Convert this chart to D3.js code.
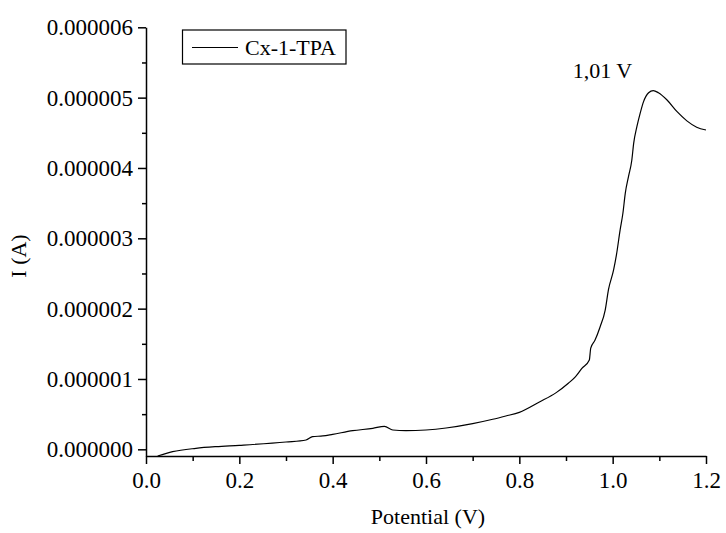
<!DOCTYPE html>
<html>
<head>
<meta charset="utf-8">
<script src="https://cdn.jsdelivr.net/npm/d3@7"></script>
<style>
  html, body { margin: 0; padding: 0; background: #fff; }
  svg { display: block; }
  text { font-family: "Liberation Serif", "Times New Roman", serif; fill: #000; }
</style>
</head>
<body>
<svg id="chart" width="726" height="533"></svg>
<script>
// Linear sweep voltammogram of Cx-1-TPA
const potential = [
  0.025, 0.057, 0.107, 0.150, 0.200, 0.300, 0.343, 0.357, 0.379, 0.400,
  0.443, 0.486, 0.511, 0.529, 0.557, 0.600, 0.643, 0.700, 0.743, 0.771,
  0.800, 0.843, 0.879, 0.905, 0.920, 0.934, 0.950, 0.953, 0.962, 0.973,
  0.984, 0.991, 1.002, 1.008, 1.016, 1.022, 1.027, 1.034, 1.041, 1.045,
  1.052, 1.059, 1.066, 1.077, 1.087, 1.098, 1.116, 1.138, 1.159, 1.180,
  1.200
];
// current in microamperes
const currentMicroA = [
  -0.095, -0.033, 0.014, 0.038, 0.057, 0.104, 0.133, 0.180, 0.190, 0.213,
  0.265, 0.299, 0.327, 0.275, 0.265, 0.275, 0.303, 0.365, 0.427, 0.474,
  0.526, 0.673, 0.806, 0.940, 1.030, 1.150, 1.270, 1.440, 1.550, 1.740,
  1.980, 2.270, 2.550, 2.760, 3.120, 3.360, 3.640, 3.880, 4.110, 4.350,
  4.590, 4.780, 4.940, 5.070, 5.100, 5.070, 4.970, 4.800, 4.670, 4.580,
  4.540
];
const xMajorTicks = [0.0, 0.2, 0.4, 0.6, 0.8, 1.0, 1.2];
const xMinorTicks = [0.1, 0.3, 0.5, 0.7, 0.9, 1.1];
const yMajorTicks = [0, 1e-6, 2e-6, 3e-6, 4e-6, 5e-6, 6e-6];
const yMinorTicks = [0.5e-6, 1.5e-6, 2.5e-6, 3.5e-6, 4.5e-6, 5.5e-6];
const seriesName = "Cx-1-TPA";
const peakLabel = "1,01 V";
const peakIndex = 44;

const data = potential.map((v, i) => ({ v, i: currentMicroA[i] * 1e-6 }));

const svg = d3.select("#chart");
const plot = { left: 146, right: 706, top: 27.3, bottom: 456 };

const x = d3.scaleLinear().domain([0, 1.2]).range([plot.left, plot.right]);
const y = d3.scaleLinear().domain([-0.095e-6, 6e-6]).range([plot.bottom, plot.top]);

// minor ticks
svg.append("g")
  .attr("transform", `translate(0,${plot.bottom})`)
  .call(d3.axisBottom(x).tickValues(xMinorTicks).tickSize(5).tickFormat(""))
  .call(g => g.select(".domain").remove());
svg.append("g")
  .attr("transform", `translate(${plot.left},0)`)
  .call(d3.axisLeft(y).tickValues(yMinorTicks).tickSize(4).tickFormat(""))
  .call(g => g.select(".domain").remove());

// major axes
const xAxis = svg.append("g")
  .attr("transform", `translate(0,${plot.bottom})`)
  .call(d3.axisBottom(x).tickValues(xMajorTicks).tickSize(8).tickSizeOuter(0)
    .tickPadding(8).tickFormat(d3.format(".1f")));
const yAxis = svg.append("g")
  .attr("transform", `translate(${plot.left},0)`)
  .call(d3.axisLeft(y).tickValues(yMajorTicks).tickSize(8).tickSizeOuter(0)
    .tickPadding(5).tickFormat(d3.format(".6f")));

[xAxis, yAxis].forEach(g => {
  g.selectAll("text").attr("font-size", 23).style("font-family", "'Liberation Serif', serif");
});
svg.selectAll(".domain, .tick line").attr("stroke", "#000").attr("stroke-width", 1.5);

// curve
svg.append("path")
  .datum(data)
  .attr("fill", "none")
  .attr("stroke", "#000")
  .attr("stroke-width", 1.2)
  .attr("stroke-linejoin", "round")
  .attr("d", d3.line().x(d => x(d.v)).y(d => y(d.i)).curve(d3.curveMonotoneX));

// axis titles
svg.append("text")
  .attr("x", (plot.left + plot.right) / 2 + 2)
  .attr("y", 524)
  .attr("text-anchor", "middle")
  .attr("font-size", 22)
  .text("Potential (V)");
svg.append("text")
  .attr("transform", "translate(26,256) rotate(-90)")
  .attr("text-anchor", "middle")
  .attr("font-size", 22)
  .text("I (A)");

// peak annotation
svg.append("text")
  .attr("x", x(data[peakIndex].v) - 21)
  .attr("y", 78)
  .attr("text-anchor", "end")
  .attr("font-size", 22)
  .text(peakLabel);

// legend
const legend = svg.append("g");
legend.append("rect")
  .attr("x", 182.5).attr("y", 30).attr("width", 163.5).attr("height", 34)
  .attr("fill", "#fff").attr("stroke", "#000").attr("stroke-width", 1.2);
legend.append("line")
  .attr("x1", 192).attr("x2", 238).attr("y1", 47.5).attr("y2", 47.5)
  .attr("stroke", "#000").attr("stroke-width", 1.2);
legend.append("text")
  .attr("x", 245).attr("y", 54.5)
  .attr("font-size", 22)
  .text(seriesName);
</script>
</body>
</html>
